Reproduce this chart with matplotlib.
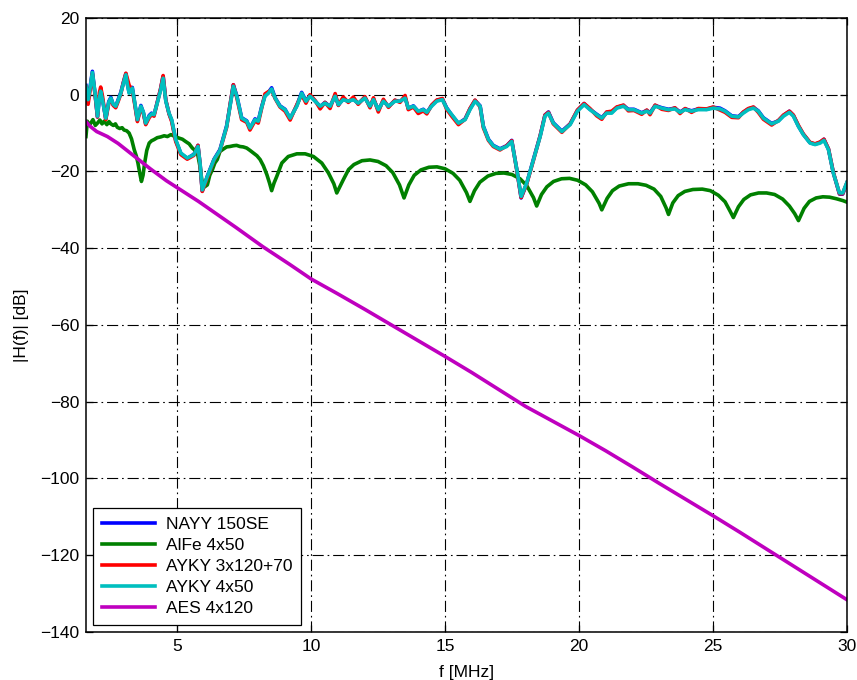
import matplotlib
matplotlib.use("Agg")
import matplotlib.pyplot as plt

plt.rcParams['font.family'] = ['Liberation Sans', 'DejaVu Sans']
plt.rcParams['font.size'] = 12.5

# frequency grid shared by the three near-identical cable curves [MHz]
f_fine = [1.60, 1.68, 1.76, 1.84, 1.94, 2.03, 2.10, 2.15, 2.22, 2.34,
          2.45, 2.53, 2.62, 2.71, 2.80, 2.90, 3.00, 3.09, 3.15, 3.21,
          3.33, 3.42, 3.52, 3.65, 3.74, 3.83, 3.96, 4.05, 4.14, 4.26,
          4.38, 4.48, 4.58, 4.70, 4.80, 4.95, 5.14, 5.38, 5.63, 5.78,
          5.86, 5.94, 6.13, 6.38, 6.60, 6.85, 7.00, 7.10, 7.23, 7.41,
          7.60, 7.72, 7.91, 8.03, 8.15, 8.28, 8.41, 8.53, 8.66, 8.84,
          9.03, 9.22, 9.47, 9.65, 9.81, 9.96, 10.15, 10.34, 10.52, 10.71,
          10.90, 11.02, 11.20, 11.39, 11.58, 11.76, 12.01, 12.20, 12.33, 12.51,
          12.70, 12.89, 13.13, 13.32, 13.51, 13.63, 13.82, 14.00, 14.19, 14.32,
          14.50, 14.69, 14.90, 15.06, 15.25, 15.50, 15.75, 15.93, 16.12, 16.31,
          16.43, 16.62, 16.80, 17.05, 17.30, 17.49, 17.68, 17.84, 18.05, 18.30,
          18.55, 18.73, 18.86, 19.04, 19.36, 19.67, 19.94, 20.19, 20.41, 20.66,
          20.85, 21.03, 21.22, 21.41, 21.66, 21.84, 22.05, 22.34, 22.53, 22.65,
          22.84, 23.09, 23.34, 23.58, 23.77, 23.96, 24.20, 24.45, 24.76, 25.01,
          25.26, 25.45, 25.70, 25.95, 26.13, 26.32, 26.51, 26.69, 26.88, 27.19,
          27.44, 27.63, 27.85, 28.00, 28.19, 28.37, 28.62, 28.81, 29.00, 29.14,
          29.31, 29.49, 29.72, 29.84, 30.00]

nayy_db = [2.4, -1.5, 2.2, 6.1, 0.2, -5.8, -0.8, 1.1, -1.3, -6.3,
           -1.8, -0.7, -2.7, -3.1, -1.3, 0.6, 3.3, 5.5, 2.7, 0.6,
           1.9, -2.2, -6.7, -2.8, -4.6, -7.6, -5.4, -4.8, -5.3, -2.0,
           1.3, 4.8, -1.5, -4.9, -6.7, -11.9, -15.3, -16.6, -15.5, -13.2,
           -18.2, -25.1, -21.2, -16.8, -14.3, -8.1, -1.8, 2.6, -0.3, -6.0,
           -6.8, -8.8, -6.3, -6.8, -3.3, -0.2, 0.6, 1.8, -0.8, -2.9,
           -3.8, -6.2, -2.8, 0.6, -1.6, -0.2, -1.6, -3.1, -2.0, -3.1,
           -0.2, -2.7, -1.1, -1.8, -1.1, -2.3, -0.7, -3.1, -1.1, -4.0,
           -1.5, -3.1, -1.5, -1.8, -0.7, -3.6, -2.9, -4.4, -3.8, -4.7,
           -2.8, -1.5, -1.1, -3.4, -5.3, -7.5, -6.3, -3.7, -1.5, -2.9,
           -8.2, -11.6, -13.2, -14.1, -13.3, -11.9, -19.6, -26.9, -23.1, -16.8,
           -10.7, -5.3, -4.5, -7.3, -9.5, -7.6, -4.1, -2.3, -3.8, -5.1,
           -6.0, -4.6, -4.6, -3.3, -2.8, -3.8, -3.8, -4.7, -4.1, -4.7,
           -2.8, -3.4, -3.8, -3.5, -4.5, -3.7, -4.2, -3.7, -3.8, -3.3,
           -3.5, -4.2, -5.5, -5.7, -4.6, -3.7, -3.3, -4.2, -6.0, -7.5,
           -6.8, -5.4, -4.3, -5.4, -8.2, -10.3, -12.5, -12.9, -12.4, -11.6,
           -14.2, -20.3, -25.9, -25.9, -23.0]

ayky3_db = [2.0, -2.5, 1.5, 5.5, 0.0, -5.8, 0.5, 2.0, -0.5, -6.5,
            -2.3, -1.2, -2.8, -3.4, -1.8, 0.2, 3.3, 5.6, 4.0, 2.5,
            1.2, -2.5, -7.0, -3.3, -4.8, -7.8, -6.0, -5.2, -5.6, -2.0,
            1.4, 5.0, -1.4, -5.0, -7.0, -12.2, -15.6, -16.8, -15.8, -13.2,
            -18.3, -25.2, -21.6, -17.0, -14.6, -8.5, -1.6, 2.6, -0.8, -6.5,
            -7.2, -9.2, -6.8, -7.4, -3.7, 0.2, 0.8, 1.2, -1.0, -3.2,
            -4.3, -6.6, -2.6, 0.0, -2.2, 0.0, -1.5, -3.7, -2.0, -3.6,
            0.3, -2.8, -0.6, -2.0, -0.6, -2.5, -0.5, -3.4, -0.8, -4.5,
            -1.2, -3.3, -1.4, -2.0, -0.2, -3.9, -3.2, -4.9, -4.2, -5.0,
            -2.7, -1.4, -1.0, -3.8, -5.6, -7.8, -6.4, -3.6, -1.4, -3.2,
            -8.6, -11.9, -13.5, -14.4, -13.3, -12.0, -19.7, -26.8, -23.2, -17.1,
            -10.7, -5.3, -4.6, -7.6, -9.8, -7.6, -4.0, -2.3, -3.6, -5.5,
            -6.4, -4.5, -4.3, -3.2, -2.7, -4.2, -4.1, -5.1, -4.0, -5.2,
            -2.7, -3.8, -4.1, -3.4, -4.9, -3.6, -4.6, -3.6, -3.7, -3.2,
            -4.0, -4.6, -5.9, -6.0, -4.5, -3.6, -3.2, -4.6, -6.4, -7.9,
            -6.7, -5.3, -4.3, -5.3, -8.0, -10.2, -12.4, -12.8, -12.3, -11.6,
            -14.1, -20.2, -25.8, -25.8, -22.9]

ayky4_db = [2.2, -1.3, 2.0, 5.8, 0.4, -5.6, -1.0, 0.9, -1.5, -6.1,
            -2.0, -0.9, -2.5, -3.0, -1.5, 0.4, 3.0, 5.2, 2.5, 0.4,
            1.7, -2.0, -6.5, -3.0, -4.5, -7.4, -5.6, -5.0, -5.2, -2.2,
            1.0, 4.3, -1.7, -4.8, -6.5, -11.7, -15.2, -16.5, -15.6, -13.5,
            -18.0, -24.8, -21.3, -16.9, -14.5, -8.3, -2.0, 2.2, -0.4, -6.1,
            -6.9, -8.7, -6.5, -6.9, -3.5, -0.4, 0.4, 1.5, -0.9, -3.0,
            -3.9, -6.1, -3.0, 0.4, -1.7, -0.4, -1.7, -3.0, -2.2, -3.0,
            -0.4, -2.6, -1.3, -1.7, -1.3, -2.2, -0.9, -3.0, -1.3, -3.9,
            -1.7, -3.0, -1.7, -1.7, -0.9, -3.5, -3.0, -4.3, -3.9, -4.6,
            -3.0, -1.7, -1.3, -3.5, -5.2, -7.4, -6.5, -3.9, -1.7, -3.0,
            -8.3, -11.7, -13.3, -14.2, -13.5, -12.2, -19.5, -26.5, -23.0, -16.9,
            -10.9, -5.6, -4.8, -7.4, -9.6, -7.8, -4.3, -2.6, -3.9, -5.2,
            -6.1, -4.8, -4.8, -3.5, -3.0, -3.9, -3.9, -4.8, -4.3, -4.8,
            -3.0, -3.5, -3.9, -3.7, -4.6, -3.9, -4.3, -3.9, -3.9, -3.5,
            -3.7, -4.3, -5.6, -5.8, -4.8, -3.9, -3.5, -4.3, -6.1, -7.6,
            -6.9, -5.6, -4.6, -5.6, -8.3, -10.4, -12.6, -13.0, -12.6, -11.9,
            -14.3, -20.4, -25.6, -25.6, -22.8]

# AlFe 4x50
f_alfe = [1.60, 1.65, 1.72, 1.78, 1.86, 1.95, 2.03, 2.12, 2.20, 2.28,
          2.38, 2.46, 2.53, 2.62, 2.70, 2.77, 2.86, 2.95, 3.02, 3.12,
          3.21, 3.30, 3.40, 3.48, 3.54, 3.61, 3.67, 3.73, 3.79, 3.87,
          3.96, 4.05, 4.14, 4.26, 4.39, 4.52, 4.64, 4.77, 4.92, 5.07,
          5.20, 5.32, 5.45, 5.57, 5.67, 5.76, 5.85, 5.94, 6.03, 6.13,
          6.22, 6.32, 6.41, 6.50, 6.60, 6.72, 6.85, 6.97, 7.10, 7.22,
          7.35, 7.47, 7.60, 7.72, 7.85, 7.98, 8.10, 8.22, 8.35, 8.45,
          8.53, 8.62, 8.72, 8.91, 9.15, 9.47, 9.78, 10.09, 10.40, 10.65,
          10.85, 10.96, 11.20, 11.40, 11.60, 11.90, 12.20, 12.50, 12.80, 13.05,
          13.30, 13.47, 13.65, 13.85, 14.10, 14.40, 14.70, 15.00, 15.30, 15.55,
          15.80, 15.93, 16.10, 16.30, 16.60, 16.90, 17.20, 17.50, 17.80, 18.05,
          18.30, 18.42, 18.60, 18.80, 19.05, 19.35, 19.65, 19.95, 20.25, 20.50,
          20.75, 20.85, 21.05, 21.25, 21.50, 21.85, 22.20, 22.50, 22.80, 23.05,
          23.25, 23.34, 23.50, 23.70, 23.95, 24.25, 24.60, 24.90, 25.20, 25.45,
          25.65, 25.76, 25.95, 26.15, 26.40, 26.70, 27.00, 27.30, 27.60, 27.85,
          28.05, 28.19, 28.40, 28.60, 28.85, 29.10, 29.35, 29.60, 29.85, 30.00]

alfe_db = [-10.9, -6.9, -8.0, -7.4, -6.5, -8.0, -7.4, -6.6, -7.6, -6.9,
           -7.8, -7.0, -7.6, -8.0, -7.6, -8.5, -8.8, -8.6, -9.2, -9.4,
           -10.0, -11.5, -14.3, -16.0, -17.8, -20.5, -22.6, -21.0, -17.8, -14.5,
           -12.6, -12.0, -11.7, -11.2, -11.0, -10.7, -10.9, -10.4, -10.9, -11.3,
           -11.6, -12.2, -12.8, -13.9, -14.5, -15.2, -18.5, -23.0, -24.0, -23.5,
           -21.0, -19.5, -17.8, -16.9, -14.8, -14.2, -13.6, -13.5, -13.3, -13.2,
           -13.5, -13.6, -13.9, -14.5, -15.2, -15.9, -16.9, -18.5, -20.8, -23.0,
           -25.0, -23.0, -21.3, -17.8, -16.1, -15.4, -15.4, -16.1, -17.8, -20.4,
           -23.2, -25.6, -22.2, -19.5, -18.2, -17.2, -17.0, -17.4, -18.5, -20.3,
           -23.5, -26.9, -23.5, -21.0, -19.6, -18.9, -18.8, -19.3, -20.5, -22.3,
           -25.5, -27.8, -25.0, -22.8, -21.2, -20.5, -20.4, -20.8, -21.9, -23.7,
           -26.8, -29.0, -26.0, -24.0, -22.6, -21.9, -21.8, -22.3, -23.5, -25.3,
           -28.3, -30.0, -27.0, -25.0, -23.8, -23.2, -23.2, -23.6, -24.6, -26.5,
           -29.5, -31.2, -28.2, -26.3, -25.2, -24.7, -24.6, -25.0, -26.2, -27.9,
           -30.5, -32.0, -29.2, -27.3, -26.1, -25.6, -25.6, -26.0, -27.2, -29.0,
           -31.0, -32.8, -29.6, -27.8, -26.9, -26.6, -26.7, -27.1, -27.6, -28.0]

# AES 4x120
f_aes = [1.60, 1.75, 2.00, 2.40, 2.80, 3.40, 4.00, 4.60, 5.20, 5.80,
         6.50, 7.20, 8.20, 9.20, 10.0, 11.0, 12.0, 13.0, 14.0, 15.0,
         16.0, 17.0, 18.0, 19.0, 20.0, 21.0, 22.0, 23.0, 24.0, 25.0,
         26.0, 27.0, 28.0, 29.0, 30.0]
aes_db = [-7.0, -8.2, -9.6, -10.9, -12.7, -16.0, -19.3, -22.4, -25.1, -27.8,
          -31.2, -34.6, -39.6, -44.2, -48.0, -51.9, -55.9, -60.0, -64.1, -68.2,
          -72.4, -76.8, -81.2, -85.0, -88.8, -92.8, -97.0, -101.3, -105.5, -109.7,
          -114.0, -118.4, -122.8, -127.2, -131.6]

fig = plt.figure(figsize=(8.57, 6.8), dpi=100)
ax = fig.add_axes([0.1003, 0.0706, 0.888, 0.903])

lw = 2.6
ax.plot(f_fine, nayy_db, color='#0000ff', lw=lw, label='NAYY 150SE')
ax.plot(f_alfe, alfe_db, color='#008000', lw=lw, label='AlFe 4x50')
ax.plot(f_fine, ayky3_db, color='#ff0000', lw=lw, label='AYKY 3x120+70')
ax.plot(f_fine, ayky4_db, color='#00bfbf', lw=lw, label='AYKY 4x50')
ax.plot(f_aes, aes_db, color='#bf00bf', lw=lw, label='AES 4x120')

ax.set_xlim(1.6, 30)
ax.set_ylim(-140, 20)
ax.set_xticks([5, 10, 15, 20, 25, 30])
ax.set_yticks(range(-140, 21, 20))
ax.grid(True, color='black', linestyle=(0, (10, 3.5, 1.5, 3.5)), linewidth=0.8)
ax.tick_params(direction='in', top=True, right=True, length=5, width=0.9, pad=5)
for s in ax.spines.values():
    s.set_linewidth(1.1)

ax.set_xlabel('f [MHz]', labelpad=8)
ax.set_ylabel('|H(f)| [dB]', labelpad=8)

leg = ax.legend(loc='lower left', fancybox=False, edgecolor='black',
                framealpha=1, handlelength=3.1, borderaxespad=0.4,
                borderpad=0.5, labelspacing=0.34, handletextpad=0.6)
leg.get_frame().set_linewidth(0.9)

fig.savefig('out.png', dpi=100)
